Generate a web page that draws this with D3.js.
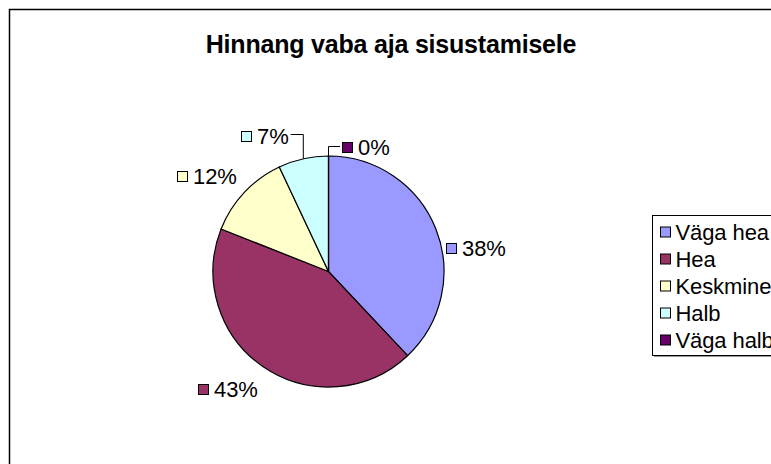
<!DOCTYPE html>
<html><head><meta charset="utf-8">
<script src="https://cdn.jsdelivr.net/npm/d3@7"></script>
<style>body{margin:0;background:#fff}svg{display:block}text{font-family:"Liberation Sans",Arial,sans-serif}</style>
</head><body>
<script>
const title = "Hinnang vaba aja sisustamisele";
const categories = ["Väga hea", "Hea", "Keskmine", "Halb", "Väga halb"];
const values = [38, 43, 12, 7, 0];
const labels = ["38%", "43%", "12%", "7%", "0%"];
const colors = ["#9999FF", "#993366", "#FFFFCC", "#CCFFFF", "#660066"];

const W = 771, H = 464;
const svg = d3.select("body").append("svg").attr("width", W).attr("height", H);

svg.append("rect").attr("x", 9.5).attr("y", 9.5).attr("width", 790).attr("height", 500)
  .attr("fill", "#fff").attr("stroke", "#000").attr("stroke-width", 1.5);

svg.append("text").attr("x", 391).attr("y", 53).attr("text-anchor", "middle")
  .attr("font-size", 25).attr("font-weight", "bold").attr("letter-spacing", -0.2).text(title);

const cx = 328.5, cy = 271.5, r = 115.5;
const pie = d3.pie().sort(null).value(d => d)(values);
const arc = d3.arc().innerRadius(0).outerRadius(r);
const g = svg.append("g").attr("transform", `translate(${cx},${cy})`);
g.selectAll("path").data(pie).join("path")
  .attr("d", arc).attr("fill", (d, i) => colors[i]).attr("stroke", "#000").attr("stroke-width", 1.2);

// label anchor: left edge of key square and vertical centre of the label
const labelPos = [
  {x: 446, y: 248},
  {x: 198, y: 389},
  {x: 177, y: 176},
  {x: 241, y: 136},
  {x: 342, y: 146.5}
];
const lg = svg.append("g");
const widths = [];
labelPos.forEach((p, i) => {
  lg.append("rect").attr("x", p.x + 0.5).attr("y", Math.round(p.y - 5) + 0.5).attr("width", 10).attr("height", 10)
    .attr("fill", colors[i]).attr("stroke", "#000").attr("stroke-width", 1);
  const t = lg.append("text").attr("x", p.x + 16).attr("y", p.y + 8).attr("font-size", 22)
    .attr("letter-spacing", -0.1).text(labels[i]);
  widths.push(t.node().getComputedTextLength());
});
// leader lines
const mid = d => (d.startAngle + d.endAngle) / 2;
const edge = d => [cx + r * Math.sin(mid(d)), cy - r * Math.cos(mid(d))];
const e3 = edge(pie[3]);
const t3end = labelPos[3].x + 16 + widths[3] + 2;
svg.append("path").attr("fill", "none").attr("stroke", "#000")
  .attr("d", `M${e3[0]},${e3[1]}L${e3[0]},${labelPos[3].y - 1.5}L${t3end},${labelPos[3].y - 1.5}`);
const e4 = edge(pie[4]);
svg.append("path").attr("fill", "none").attr("stroke", "#000")
  .attr("d", `M${e4[0]},${e4[1]}L${e4[0]},${labelPos[4].y}L${labelPos[4].x - 2},${labelPos[4].y}`);

// legend
const legX = 652.5, legY = 215.5;
svg.append("rect").attr("x", legX + 1.5).attr("y", legY + 1.5).attr("width", 200).attr("height", 140).attr("fill", "#999");
svg.append("rect").attr("x", legX).attr("y", legY).attr("width", 200).attr("height", 140)
  .attr("fill", "#fff").attr("stroke", "#000").attr("stroke-width", 1);
const leg = svg.append("g");
categories.forEach((c, i) => {
  const yc = 232 + i * 27;
  leg.append("rect").attr("x", legX + 8).attr("y", yc - 5).attr("width", 10).attr("height", 10)
    .attr("fill", colors[i]).attr("stroke", "#000");
  leg.append("text").attr("x", legX + 23).attr("y", yc + 8).attr("font-size", 22)
    .attr("letter-spacing", -0.1).text(c);
});
</script>
</body></html>
